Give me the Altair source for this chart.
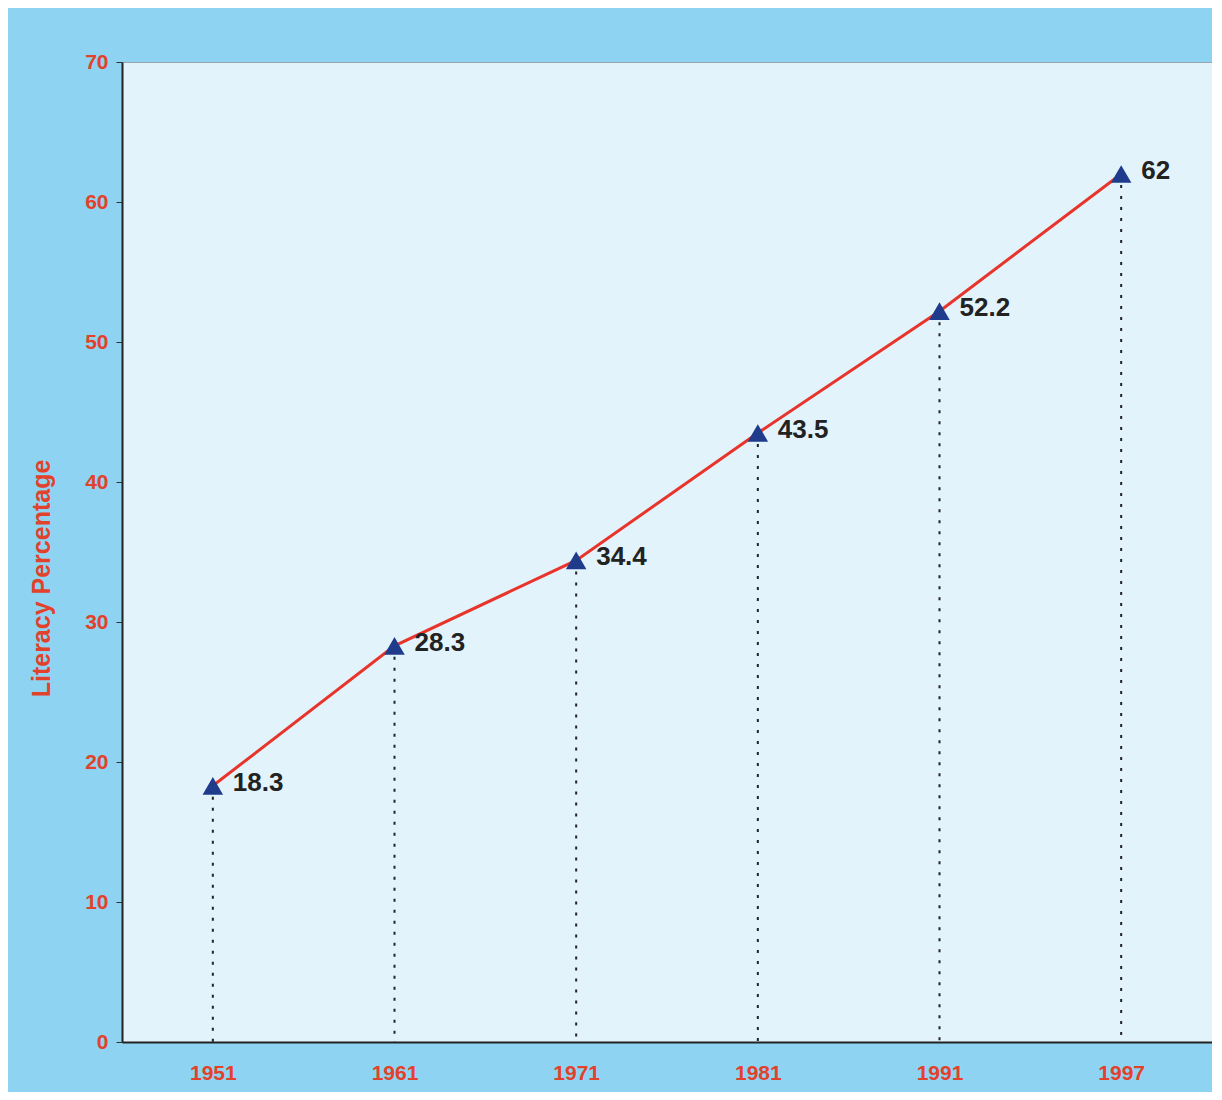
import altair as alt
import pandas as pd

years = ["1951", "1961", "1971", "1981", "1991", "1997"]
literacy = [18.3, 28.3, 34.4, 43.5, 52.2, 62]
labels = ["18.3", "28.3", "34.4", "43.5", "52.2", "62"]

df = pd.DataFrame({"year": years, "lit": literacy, "label": labels, "zero": [0] * len(years)})

RED = "#e2412b"
FONT = "Liberation Sans"

x = alt.X("year:N", sort=years, title=None,
          scale=alt.Scale(type="point", padding=0.5),
          axis=alt.Axis(labelColor=RED, labelFont=FONT, labelFontWeight="bold", labelFontSize=21,
                        labelAngle=0, labelPadding=20, ticks=False, domainColor="#222", domainWidth=2))
y = alt.Y("lit:Q", title="Literacy Percentage",
          scale=alt.Scale(domain=[0, 70], nice=False),
          axis=alt.Axis(values=list(range(0, 71, 10)), grid=False, labelColor=RED, labelFont=FONT,
                        labelFontWeight="bold", labelFontSize=21, labelPadding=8, tickSize=6,
                        tickColor="#333", domainColor="#222", domainWidth=2,
                        titleColor=RED, titleFont=FONT, titleFontWeight="bold", titleFontSize=25,
                        titlePadding=30, titleY=516))

base = alt.Chart(df)

drops = base.mark_rule(color="#222", strokeWidth=2, strokeDash=[3, 8]).encode(
    x=x, y=y, y2="zero:Q")
line = base.mark_line(color="#e8342a", strokeWidth=3).encode(x=x, y=y)
pts = base.mark_point(shape="triangle-up", filled=True, color="#1f3b8c", size=420, opacity=1).encode(x=x, y=y)
txt = base.mark_text(align="left", baseline="middle", dx=20, dy=-3, font=FONT, fontWeight="bold",
                     fontSize=26, color="#222").encode(x=x, y=y, text="label:N")

chart = alt.layer(drops, line, pts, txt).properties(
    width=1090, height=980,
    background="#8ed4f2",
    padding={"left": 114, "top": 54, "right": 0, "bottom": 50},
    autosize=alt.AutoSizeParams(type="none"),
).configure_view(fill="#e2f3fb", stroke="#9aa6ad", strokeWidth=1)

chart.save("out.html", embed_options={"renderer": "svg", "actions": False})
